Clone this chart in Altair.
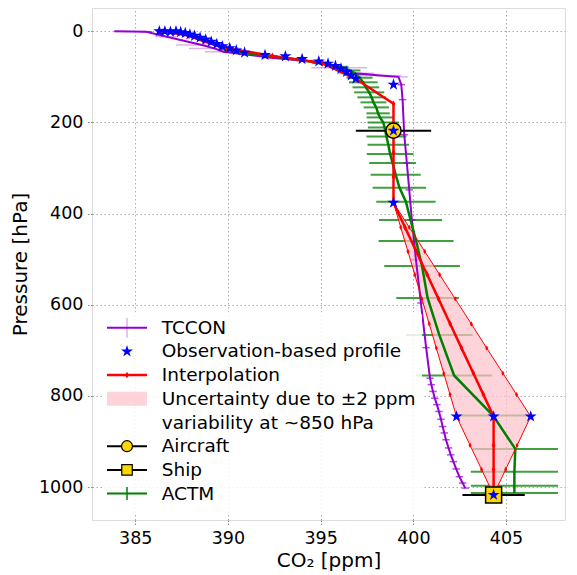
import altair as alt
import pandas as pd

# ---------------- data ----------------
# TCCON profile
tccon_p = [0, 1, 12, 30, 38, 45, 59, 66, 80, 92, 97, 100, 117, 150, 227, 289, 348, 414, 501, 596, 694,
           761, 775, 790, 805, 819, 834, 851, 867, 881, 896, 914, 929, 944, 960, 977, 991, 1002]
tccon_co2 = [383.87, 385.6, 386.7, 388.6, 389.3, 389.75, 392.6, 394.5, 396.0, 396.9, 398.2, 399.2, 399.35,
             399.42, 399.51, 399.65, 399.78, 399.92, 400.14, 400.41, 400.69,
             400.9, 400.97, 401.06, 401.16, 401.27, 401.38, 401.49, 401.58, 401.67, 401.76, 401.9, 402.02,
             402.16, 402.31, 402.48, 402.66, 402.8]
tccon_err = [0.0, 0.3, 0.6, 1.4, 1.4, 1.0, 0.8, 0.8, 1.5, 1.0, 1.15, 0.5, 0.2,
             0.2, 0.2, 0.2, 0.2, 0.2, 0.2, 0.2, 0.2,
             0.2, 0.2, 0.2, 0.2, 0.2, 0.2, 0.2, 0.2, 0.2, 0.2, 0.2, 0.2,
             0.2, 0.2, 0.2, 0.2, 0.2]

# ACTM model profile
actm_p = [40, 48, 55, 62, 70, 78, 86, 94, 102, 112, 123, 134, 145, 156, 167, 180, 189, 200, 211, 231, 249,
          269, 289, 315, 343, 374, 414, 460, 515, 585, 666, 755, 843, 916, 966, 997, 1013]
actm_co2 = [389.8, 390.9, 392.3, 393.8, 395.0, 396.0, 396.6, 396.9, 397.1, 397.3, 397.44, 397.62, 397.75,
            397.85, 398.0, 398.1, 398.2, 398.38, 398.45, 398.55, 398.65,
            398.75, 398.88, 399.05, 399.25, 399.6, 399.85, 400.15, 400.47, 400.77, 401.4, 402.2, 404.3,
            405.5, 405.45, 405.45, 405.45]
actm_err = [0.25, 0.3, 0.35, 0.4, 0.45, 0.5, 0.55, 0.6, 0.7, 0.77, 0.72, 0.81, 0.77,
            0.7, 0.68, 0.63, 0.72, 0.85, 0.9, 1.08, 1.12,
            1.26, 1.26, 1.35, 1.44, 1.6, 1.7, 2.02, 2.04, 1.69, 1.8, 2.05, 1.84,
            2.3, 2.35, 2.35, 2.35]

# observation-based profile (stars)
obs_p = [0, 0, 1, 0, 2, 4, 7, 10, 14, 18, 23, 28, 33, 37, 42, 47, 52, 55, 61, 66, 71, 76, 82, 89, 97, 104,
         117, 218, 376, 845, 845, 845, 1017]
obs_co2 = [386.3, 386.6, 386.9, 387.2, 387.45, 387.7, 387.95, 388.2, 388.5, 388.8, 389.1, 389.4, 389.7,
           390.1, 390.45, 390.9, 392.0, 393.1, 394.0, 394.9, 395.4, 395.8, 396.1, 396.4, 396.65, 396.9,
           398.93, 398.93, 398.93, 402.33, 404.33, 406.33, 404.33]

# interpolation (red line)
interp_p = [0, 10, 22, 37, 54, 70, 106, 159, 218, 266, 319, 376, 430, 483, 534, 587, 642, 695, 750, 797,
            845, 908, 961, 1017]
interp_co2 = [386.5, 387.9, 388.7, 389.9, 392.4, 395.1, 396.95, 398.93, 398.93, 398.93, 398.93, 398.93,
              399.55, 400.16, 400.75, 401.36, 401.99, 402.60, 403.24, 403.78, 404.33, 404.33, 404.33, 404.33]

# uncertainty envelope (+-2 ppm at ~850 hPa)
band_p = [376, 430, 483, 534, 587, 642, 695, 750, 797, 845, 908, 961, 1017]
band_lo = [398.93, 399.32, 399.71, 400.08, 400.46, 400.86, 401.24, 401.64, 401.98, 402.33, 403.06, 403.68, 404.33]
band_hi = [398.93, 399.78, 400.62, 401.42, 402.26, 403.13, 403.96, 404.83, 405.57, 406.33, 405.60, 404.98, 404.33]

# aircraft and ship
air_p, air_co2, air_err = [218], [398.93], [2.03]
ship_p, ship_co2, ship_err = [1017], [404.33], [1.68]

# ---------------- tables ----------------
tccon = pd.DataFrame({"p": tccon_p, "co2": tccon_co2, "err": tccon_err})
tccon["lo"] = tccon.co2 - tccon.err
tccon["hi"] = tccon.co2 + tccon.err
tccon_big = tccon[tccon.err >= 0.5]
tccon_small = tccon[tccon.err < 0.5]
actm = pd.DataFrame({"p": actm_p, "co2": actm_co2, "err": actm_err})
actm["lo"] = actm.co2 - actm.err
actm["hi"] = actm.co2 + actm.err
obs = pd.DataFrame({"p": obs_p, "co2": obs_co2})
interp = pd.DataFrame({"p": interp_p, "co2": interp_co2})
band = pd.DataFrame({"p": band_p, "lo": band_lo, "hi": band_hi})
air = pd.DataFrame({"p": air_p, "co2": air_co2, "err": air_err})
air["lo"] = air.co2 - air.err
air["hi"] = air.co2 + air.err
ship = pd.DataFrame({"p": ship_p, "co2": ship_co2, "err": ship_err})
ship["lo"] = ship.co2 - ship.err
ship["hi"] = ship.co2 + ship.err

FONT = "DejaVu Sans"
xscale = alt.Scale(domain=[382.67, 408.18], nice=False, zero=False)
yscale = alt.Scale(domain=[-51, 1072], nice=False, zero=False, reverse=True)
common_axis = dict(titleFontSize=20, labelFontSize=17.5, grid=True, gridDash=[1.5, 2.5],
                   gridColor="#a0a0a0", gridWidth=0.9, domain=False, tickDash=[1.5, 1.5],
                   tickColor="#888888", tickSize=6, labelColor="black", titleColor="black",
                   titleFontWeight="normal", labelPadding=3, labelFont=FONT, titleFont=FONT)
xaxis = alt.Axis(values=[385, 390, 395, 400, 405], title="CO₂ [ppm]", format="d", titlePadding=4,
                 **common_axis)
yaxis = alt.Axis(values=[0, 200, 400, 600, 800, 1000], title="Pressure [hPa]", format="d",
                 titlePadding=8, **common_axis)


def X(field):
    return alt.X(f"{field}:Q", scale=xscale, axis=xaxis)


def Y():
    return alt.Y("p:Q", scale=yscale, axis=yaxis)


STAR = "M0,-1L0.225,-0.309L0.951,-0.309L0.363,0.118L0.588,0.809L0,0.382L-0.588,0.809L-0.363,0.118L-0.951,-0.309L-0.225,-0.309Z"
DIAM = "M0,-1L0.55,0L0,1L-0.55,0Z"

actm_bars = alt.Chart(actm).mark_rule(color="green", strokeWidth=2, opacity=0.75).encode(
    x=X("lo"), x2="hi:Q", y=Y())
tccon_bars_big = alt.Chart(tccon_big).mark_rule(color="darkviolet", strokeWidth=1.5, opacity=0.3).encode(
    x=X("lo"), x2="hi:Q", y=Y())
tccon_bars_small = alt.Chart(tccon_small).mark_rule(color="darkviolet", strokeWidth=1.5, opacity=0.7).encode(
    x=X("lo"), x2="hi:Q", y=Y())
band_area = alt.Chart(band).mark_area(orient="horizontal", color="#ffc0cb", opacity=0.7).encode(
    x=X("lo"), x2="hi:Q", y=Y())
tccon_line = alt.Chart(tccon).mark_line(color="darkviolet", strokeWidth=2).encode(
    x=X("co2"), y=Y(), order="p:Q")
actm_line = alt.Chart(actm).mark_line(color="green", strokeWidth=2.5).encode(
    x=X("co2"), y=Y(), order="p:Q")
band_lo_line = alt.Chart(band).mark_line(color="red", strokeWidth=1, point=alt.OverlayMarkDef(
    shape=DIAM, size=30, color="red", filled=True)).encode(x=X("lo"), y=Y(), order="p:Q")
band_hi_line = alt.Chart(band).mark_line(color="red", strokeWidth=1, point=alt.OverlayMarkDef(
    shape=DIAM, size=30, color="red", filled=True)).encode(x=X("hi"), y=Y(), order="p:Q")
interp_line = alt.Chart(interp).mark_line(color="red", strokeWidth=2.5, point=alt.OverlayMarkDef(
    shape=DIAM, size=45, color="red", filled=True)).encode(x=X("co2"), y=Y(), order="p:Q")
air_bar = alt.Chart(air).mark_rule(color="black", strokeWidth=2).encode(x=X("lo"), x2="hi:Q", y=Y())
air_pt = alt.Chart(air).mark_point(shape="circle", size=230, filled=True, fill="#ffd700",
                                   stroke="black", strokeWidth=1.5, opacity=1).encode(x=X("co2"), y=Y())
ship_bar = alt.Chart(ship).mark_rule(color="black", strokeWidth=2).encode(x=X("lo"), x2="hi:Q", y=Y())
ship_pt = alt.Chart(ship).mark_point(shape="square", size=256, filled=True, fill="#ffd700",
                                     stroke="black", strokeWidth=1.5, opacity=1).encode(x=X("co2"), y=Y())
stars = alt.Chart(obs).mark_point(shape=STAR, size=160, filled=True, color="blue", opacity=1).encode(
    x=X("co2"), y=Y())

# ---------------- legend (drawn by hand, pixel positions in plot area) ----------------
one = pd.DataFrame({"d": [0]})
LX0, LX1, LXC, TX = 15, 55, 35, 69.7
row0, drow = 319.7, 23.7
rows = [row0 + i * drow for i in range(8)]
leg = []
leg.append(alt.Chart(one).mark_rect(fill="white", opacity=0.85, cornerRadius=4).encode(
    x=alt.value(10), x2=alt.value(330), y=alt.value(304), y2=alt.value(505)))


def hline(y, color, width=2):
    return alt.Chart(one).mark_rule(color=color, strokeWidth=width).encode(
        x=alt.value(LX0), x2=alt.value(LX1), y=alt.value(y))


def vline(y, half, color, width=1.5, opacity=1.0):
    return alt.Chart(one).mark_rule(color=color, strokeWidth=width, opacity=opacity).encode(
        x=alt.value(LXC), y=alt.value(y - half), y2=alt.value(y + half))


def txt(y, s):
    return alt.Chart(one).mark_text(align="left", baseline="middle", fontSize=18.5, font=FONT,
                                    color="black").encode(x=alt.value(TX), y=alt.value(y),
                                                          text=alt.value(s))


leg += [hline(rows[0], "darkviolet"), vline(rows[0], 10, "darkviolet", 1.5, 0.3), txt(rows[0], "TCCON")]
leg += [alt.Chart(one).mark_point(shape=STAR, size=160, filled=True, color="blue", opacity=1).encode(
    x=alt.value(LXC), y=alt.value(rows[1])), txt(rows[1], "Observation-based profile")]
leg += [hline(rows[2], "red", 2.5), alt.Chart(one).mark_point(shape=DIAM, size=45, filled=True, color="red",
                                                              opacity=1).encode(x=alt.value(LXC), y=alt.value(rows[2])),
        txt(rows[2], "Interpolation")]
leg += [alt.Chart(one).mark_rect(fill="#ffc0cb", opacity=0.7).encode(
    x=alt.value(LX0), x2=alt.value(LX1), y=alt.value(rows[3] - 7), y2=alt.value(rows[3] + 7)),
    txt(rows[3], "Uncertainty due to ±2 ppm"), txt(rows[4], "variability at ~850 hPa")]
leg += [hline(rows[5], "black"), alt.Chart(one).mark_point(shape="circle", size=120, filled=True, fill="#ffd700",
                                                         stroke="black", strokeWidth=1.2, opacity=1).encode(
    x=alt.value(LXC), y=alt.value(rows[5])), txt(rows[5], "Aircraft")]
leg += [hline(rows[6], "black"), alt.Chart(one).mark_point(shape="square", size=110, filled=True, fill="#ffd700",
                                                         stroke="black", strokeWidth=1.2, opacity=1).encode(
    x=alt.value(LXC), y=alt.value(rows[6])), txt(rows[6], "Ship")]
leg += [hline(rows[7], "green"), vline(rows[7], 6.5, "green", 1.5), txt(rows[7], "ACTM")]

chart = alt.layer(
    actm_bars, tccon_bars_big, tccon_bars_small, band_area, tccon_line, actm_line, band_lo_line,
    band_hi_line, interp_line, air_bar, air_pt, ship_bar, ship_pt, stars, *leg
).properties(
    width=473, height=512,
    autosize=alt.AutoSizeParams(type="none"),
    padding={"left": 84, "top": 0, "right": 4, "bottom": 55},
).configure_view(stroke="#111111", strokeWidth=1.2).configure(font=FONT)

chart.save("out.html", embed_options={"renderer": "svg", "actions": False})
